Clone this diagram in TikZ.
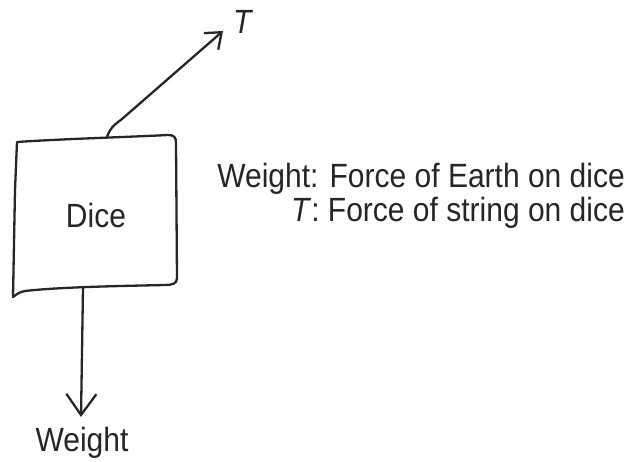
\documentclass[tikz,border=0pt]{standalone}
\usepackage{fontspec}
\setmainfont{Liberation Sans}
\usetikzlibrary{arrows.meta}
\definecolor{ink}{HTML}{262626}
\newcommand\tallt[1]{\scalebox{1}[1.12]{#1}}
\begin{document}
\begin{tikzpicture}[x=1pt,y=-1pt,
  pen/.style={draw=ink,line width=2.3pt,line cap=round,line join=round},
  lbl/.style={text=ink,font=\fontsize{30}{34}\selectfont,inner sep=0pt}]
\useasboundingbox (0,0) rectangle (630,462);
% box outline (hand drawn)
\draw[pen] (17,142) .. controls (60,139) and (130,137) .. (168,135)
  .. controls (174,135) and (176,137) .. (176,143)
  -- (177,278) .. controls (177,284) and (172,285) .. (165,285)
  .. controls (120,286) and (60,287) .. (25,291)
  .. controls (18,292) and (15,296) .. (13,297)
  -- (15,190) -- cycle;
\node[lbl] (dice) at (96,215) {\tallt{Dice}};
\coordinate (top) at (107,137);
\coordinate (bot) at (83,288);
\coordinate (ttip) at (223,31);
\coordinate (wtip) at (81,417);
\node[lbl,anchor=base west] (tl) at (233,34) {\tallt{\textit{T}}};
\node[lbl,anchor=base] (wl) at (82,452) {\tallt{Weight}};
\draw[pen,-{Straight Barb[length=14pt,width=22pt,line width=2.3pt]}] (top) .. controls (110,128) and (114,125) .. (122,119) -- (ttip);
\draw[pen,-{Straight Barb[length=21pt,width=30pt,line width=2.3pt]}] (bot) -- (wtip);
\node[lbl,anchor=base east] (l1) at (625,188) {\tallt{Weight: Force of Earth on dice}};
\node[lbl,anchor=base east] (l2) at (625,222) {\tallt{\textit{T}: Force of string on dice}};
\end{tikzpicture}
\end{document}
